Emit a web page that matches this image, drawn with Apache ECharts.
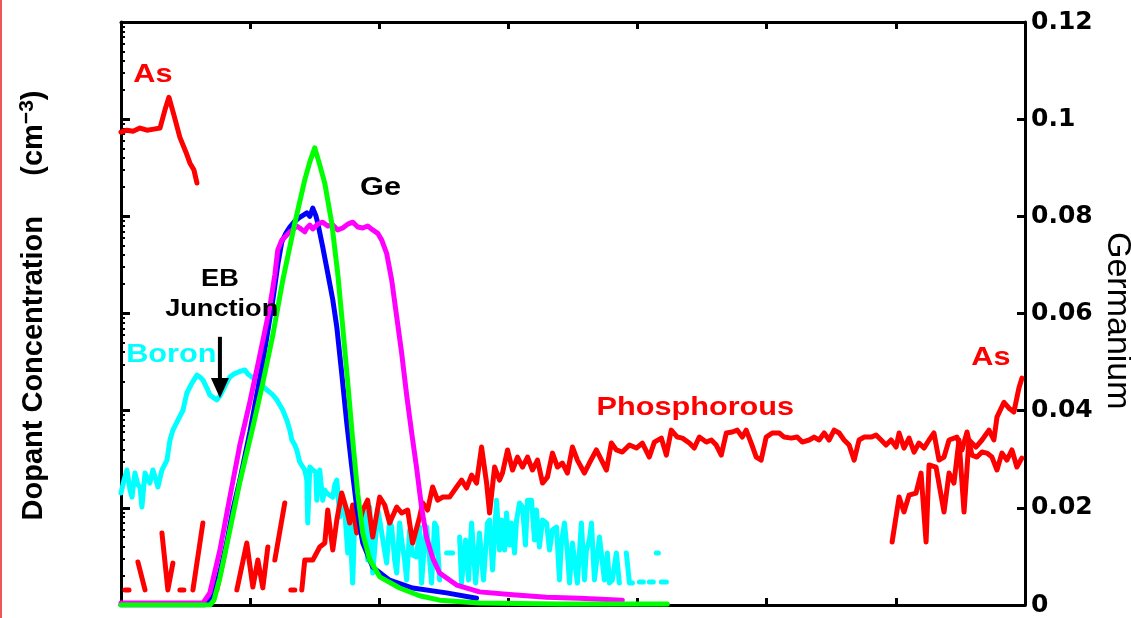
<!DOCTYPE html>
<html><head><meta charset="utf-8">
<script src="https://cdn.jsdelivr.net/npm/echarts@6/dist/echarts.min.js"></script>
<style>html,body{margin:0;padding:0;background:#fff}#c{width:1131px;height:618px}</style>
</head><body><div id="c"></div>
<script>
// ---- Data (depth in nm, Ge fraction on right axis, dopant concentration cm^-3 on left log axis) ----
const depthRange = [0, 700];
const depthStep = 100;
const geTicks = [0, 0.02, 0.04, 0.06, 0.08, 0.1, 0.12];
const dopantRange = [1e16, 1e22];

const geGreen = [[0,0],[69,0],[72,0.001],[76.6,0.0056],[84.3,0.0154],[92,0.0253],[102.1,0.0366],[109.8,0.0457],[117.6,0.0556],[125.3,0.0669],[134.6,0.0786],[142.3,0.0875],[146.2,0.0912],[150,0.0941],[153.9,0.0906],[157.8,0.0868],[163.2,0.0786],[167.8,0.0683],[171.7,0.0572],[175.6,0.0457],[179.4,0.034],[183.3,0.023],[187.2,0.0148],[192.6,0.0093],[200.3,0.0058],[215.8,0.0035],[231.2,0.0019],[246.7,0.001],[277.6,0.0004],[339.5,0.0002],[423,0.0002]];

const geBlue = [[0,0],[65,0],[71.2,0.0016],[76.6,0.0068],[82,0.013],[86.6,0.0196],[92,0.0257],[99.8,0.0356],[109.8,0.05],[117.6,0.0628],[121.4,0.07],[124.5,0.0747],[127.6,0.0765],[130.7,0.0778],[134.6,0.079],[138.4,0.0798],[141.5,0.0803],[143.9,0.0807],[146.2,0.08],[148.5,0.0817],[150.8,0.0802],[152.4,0.0786],[156.2,0.0737],[160.1,0.0683],[164,0.0628],[167.1,0.0572],[170.9,0.0477],[174.8,0.0375],[178.7,0.0284],[182.5,0.0202],[187.2,0.0128],[194.9,0.0078],[208,0.0051],[225.8,0.0035],[252.1,0.0025],[275.3,0.0014]];

const geMagenta = [[0,0.0004],[63.4,0.0004],[68.8,0.0025],[76.6,0.0113],[84.3,0.0222],[92,0.0329],[99.8,0.0418],[107.5,0.0514],[115.2,0.0613],[119.1,0.0679],[121.4,0.0731],[124.5,0.0751],[126.8,0.0757],[130.7,0.0768],[133,0.0772],[136.1,0.078],[138.4,0.0776],[142.3,0.0768],[143.9,0.0776],[146.2,0.0782],[148.5,0.0774],[152.4,0.0784],[156.2,0.0788],[160.1,0.078],[164,0.0782],[167.8,0.0772],[171.7,0.0776],[175.6,0.0784],[179.4,0.0788],[183.3,0.0778],[187.2,0.0776],[191,0.078],[194.9,0.0772],[198.8,0.0765],[201.9,0.0751],[205.7,0.0724],[209.6,0.0669],[213.5,0.0593],[217.3,0.0519],[221.2,0.0432],[225.1,0.0354],[228.9,0.0282],[232.8,0.02],[236.7,0.0138],[241.3,0.0097],[246.7,0.0066],[259.9,0.0041],[277.6,0.0027],[303.2,0.0021],[329.5,0.0016],[355,0.0014],[388.2,0.001]];

const arsenicEmitter = [[0,7.35e20],[4.6,7.7e20],[9.3,7.5e20],[14.7,8.1e20],[20.1,7.7e20],[25.5,7.9e20],[30.2,8.1e20],[34,1.24e21],[37.1,1.68e21],[41,1.1e21],[45.6,6.5e20],[50.3,4.57e20],[53.4,3.52e20],[56.5,2.99e20],[58.8,2.2e20]];

const arsenicDeep = [[597.1,4.45e16],[602.5,1.29e17],[606.3,9.06e16],[610.2,1.35e17],[615.6,1.42e17],[619.5,2.28e17],[623.4,4.45e16],[625.7,2.76e17],[631.1,2.63e17],[637.3,9.06e16],[641.2,2.28e17],[645,1.8e17],[648.9,4.99e17],[652.8,9.06e16],[656.6,4.99e17],[662,4.22e17],[666.7,4.99e17],[672.1,6.31e17],[675.9,4.99e17],[678.3,8.59e17],[683.7,1.22e18],[687.6,1.06e18],[691.4,9.68e17],[695.3,1.71e18],[697.6,2.16e18]];

const phosphorus = [[3.1,1.43e16],[6.2,1.43e16],[9,null],[13.1,2.77e16],[18.6,1.43e16],[25,null],[31.7,5.51e16],[36.3,1.43e16],[40.2,2.7e16],[43,null],[45.6,1.43e16],[48.7,1.43e16],[52,null],[55.7,1.43e16],[63.4,6.98e16],[70,null],[74.2,1.43e16],[80.4,3.43e16],[85,null],[89.7,1.43e16],[97.4,4.34e16],[102.1,1.53e16],[106,2.9e16],[109.8,1.5e16],[113.7,3.95e16],[116,null],[119.1,2.9e16],[126.8,1.12e17],[129,null],[131.5,1.43e16],[134.6,1.43e16],[137,null],
[140,1.43e16],[142.3,2.9e16],[148.5,2.9e16],[153.9,3.95e16],[157.8,4.34e16],[160.1,9.49e16],[164,3.68e16],[167.1,7.49e16],[170.9,1.42e17],[174.8,9.49e16],[177.1,6.98e16],[179.4,1.07e17],[182.5,5.51e16],[187.2,9.49e16],[191,1.2e17],[194.9,5.01e16],[200.3,1.29e17],[204.2,1.07e17],[208,6.98e16],[213.5,1.02e17],[217.3,8.84e16],[222,9.49e16],[225.8,4.34e16],[231.2,8.04e16],[233.6,1.12e17],[237.4,9.49e16],[241.3,1.64e17],[245.2,1.2e17],[249,1.29e17],[254.4,1.29e17],[259.9,1.64e17],[263.7,1.93e17],[267.6,1.6e17],[271.5,2.17e17],[275.3,1.8e17],[279.2,4.22e17],[283.1,1.8e17],[285.4,8.84e16],[289.3,2.63e17],[293.1,1.93e17],[295.4,2.28e17],[299.3,3.94e17],[303.2,2.45e17],[307,3.33e17],[310.9,2.63e17],[314.8,3.33e17],[318.6,2.45e17],[322.5,3.1e17],[326.4,1.8e17],[330.2,2.07e17],[334.1,3.66e17],[338,2.63e17],[341.8,2.89e17],[345.7,2.28e17],[349.6,4.22e17],[353.4,3.1e17],[358.8,2.28e17],[362.7,2.89e17],[368.1,3.94e17],[375.9,2.45e17],[379.7,4.64e17],[383.6,3.94e17],[388.2,3.75e17],[393.7,4.43e17],[399.1,4.12e17],[403.7,4.64e17],[409.1,3.33e17],[413,4.75e17],[418.4,5.22e17],[422.3,3.49e17],[426.1,6.31e17],[430.8,5.35e17],[434.7,5.22e17],[440.1,4.64e17],[443.9,4.12e17],[447.8,5.35e17],[453.2,4.75e17],[457.1,4.99e17],[460.9,4.43e17],[464.8,3.49e17],[468.7,5.89e17],[473.3,6.03e17],[477.2,6.31e17],[481.1,5.35e17],[484.1,6.31e17],[488,4.64e17],[491.9,3.33e17],[495.7,3.1e17],[499.6,5.35e17],[504.3,5.89e17],[509.7,5.89e17],[513.5,5.35e17],[519,5.22e17],[523.6,5.35e17],[527.5,4.75e17],[532.9,4.99e17],[536.7,5.35e17],[540.6,4.99e17],[544.5,5.89e17],[548.3,4.99e17],[552.2,6.31e17],[556.1,5.89e17],[559.9,4.99e17],[563.8,4.43e17],[567.7,3.1e17],[571.5,4.99e17],[575.4,5.35e17],[580.8,5.35e17],[584.7,5.61e17],[588.6,4.99e17],[592.4,4.43e17],[596.3,4.99e17],[600.2,4.22e17],[602.5,5.89e17],[606.3,4.12e17],[610.2,5.22e17],[614.1,3.75e17],[617.9,4.64e17],[621.8,4.12e17],[625.7,4.99e17],[629.5,5.89e17],[633.4,3.1e17],[637.3,3.33e17],[641.2,4.99e17],[647.3,5.35e17],[651.2,3.94e17],[655.1,6.03e17],[658.9,3.49e17],[662.8,3.33e17],[666.7,3.75e17],[670.5,3.66e17],[674.4,3.33e17],[678.3,2.45e17],[682.1,3.66e17],[686,3.1e17],[689.9,3.94e17],[693.7,2.63e17],[697.6,3.25e17]];

const boron = [[0,1.42e17],[2.3,1.93e17],[4.6,2.45e17],[7,1.52e17],[8.5,1.29e17],[10.8,2.28e17],[13.1,1.72e17],[14.7,1.64e17],[16.2,1.02e17],[18.6,2.28e17],[20.9,1.93e17],[22.4,1.8e17],[24.7,2.45e17],[27.1,1.93e17],[28.6,1.64e17],[31.7,2.45e17],[35.6,3.1e17],[37.9,4.99e17],[40.2,6.31e17],[44.1,8e17],[48,1.01e18],[51,1.52e18],[54.9,1.92e18],[58.8,2.32e18],[61.1,2.22e18],[63.4,2.07e18],[66.5,1.71e18],[68.8,1.45e18],[71.9,1.35e18],[74.2,1.29e18],[76.6,1.41e18],[78.9,1.63e18],[82,1.97e18],[84.3,2.22e18],[87.4,2.38e18],[90.5,2.49e18],[92.8,2.55e18],[95.9,2.62e18],[98.2,2.38e18],[101.3,2.22e18],[104.4,2.07e18],[107.5,1.92e18],[110.6,1.75e18],[112.9,1.63e18],[115.2,1.55e18],[117.6,1.45e18],[120.7,1.29e18],[123,1.14e18],[125.3,1.01e18],[128.4,8e17],[130.7,6.31e17],[132.3,4.99e17],[134.6,4.43e17],[136.1,3.94e17],[138.4,2.96e17],[140.8,2.63e17],[142.3,2.45e17],[143.9,1.93e17],[144.6,6.98e16],[146.2,2.63e17],[148.5,2.45e17],[150.8,2.33e17],[151.6,1.2e17],[153.9,2.45e17],[156.2,1.2e17],[157.8,1.52e17],[159.3,1.42e17],[161.6,1.35e17],[164,1.29e17],[165.5,1.72e17],[167.1,1.93e17],[169.4,8.04e16],[170.9,1.2e17],[173.2,9.49e16],[175.6,3.43e16],[177.1,7.49e16],[179.4,1.68e16],[181,7.49e16],[182.5,1.02e17],[184.8,5.91e16],[187.2,4.67e16],[189.5,9.06e16],[191,2.9e16],[192.6,1.02e17],[194.9,2.13e16],[196.4,3.68e16],[198.8,9.49e16],[200.3,7.49e16],[203.4,4.14e16],[205.7,2.7e16],[208,7.49e16],[209.6,6.34e16],[211.9,2.9e16],[213.5,2.13e16],[215.8,6.98e16],[217.3,4.67e16],[219.6,2.9e16],[221.2,1.81e16],[223.5,5.91e16],[225.8,3.27e16],[228.9,3.12e16],[231.2,6.34e16],[232.8,1.68e16],[235.1,4.67e16],[236.7,6.34e16],[239,2.9e16],[240.5,1.68e16],[242.8,6.98e16],[244.4,6.34e16],[246.7,1.81e16],[249,null],[252.1,3.43e16],[256.8,3.43e16],[259,null],[262.2,5.01e16],[263.7,1.68e16],[266.8,4.67e16],[269.1,1.81e16],[271.5,6.98e16],[274.6,1.68e16],[277.6,5.51e16],[280.7,1.81e16],[283.8,6.98e16],[285.4,7.49e16],[287.7,2.29e16],[290.8,1.2e17],[293.1,3.68e16],[294.7,7.49e16],[297,3.68e16],[298.5,8.84e16],[300.8,4.14e16],[302.4,6.98e16],[304.7,3.43e16],[306.3,7.49e16],[308.6,1.12e17],[310.9,1.02e17],[313.2,4.14e16],[314.8,1.2e17],[317.9,1.2e17],[320.2,4.67e16],[321.7,9.49e16],[324,3.95e16],[326.4,7.49e16],[329.5,6.98e16],[331.8,3.68e16],[334.1,5.91e16],[337.2,6.34e16],[339.5,1.81e16],[341,4.34e16],[343.4,6.98e16],[345.7,3.43e16],[347.3,1.68e16],[349.6,4.34e16],[353.4,1.68e16],[356.5,6.98e16],[358.9,1.81e16],[360.4,3.68e16],[362.7,4.67e16],[364.3,6.98e16],[366.6,1.81e16],[370.5,5.01e16],[374.3,1.81e16],[376.6,3.43e16],[378.2,1.68e16],[380.5,1.81e16],[383.6,3.43e16],[385.9,1.68e16],[388,null],[391.3,3.43e16],[393.7,1.68e16],[396,1.68e16],[398,null],[401.4,1.72e16],[404.5,1.72e16],[407,null],[409.1,1.72e16],[412.2,1.72e16],[413,null],[414.5,3.43e16],[416.1,3.43e16],[417,null],[418.4,1.72e16],[422.3,1.72e16]];

// Annotations placed in data coordinates (depth, Ge fraction)
const labels = [
  {text:'As', x:24.7, y:0.1091, color:'#ff0000', size:26},
  {text:'Ge', x:201, y:0.0858, color:'#000000', size:26},
  {text:'EB', x:76.6, y:0.0669, color:'#000000', size:23},
  {text:'Junction', x:78, y:0.0607, color:'#000000', size:23},
  {text:'Boron', x:39, y:0.0515, color:'#00ffff', size:26},
  {text:'Phosphorous', x:444.7, y:0.0405, color:'#ff0000', size:26},
  {text:'As', x:673.6, y:0.0508, color:'#ff0000', size:26}
];
const arrowAt = {x:76.6, yFrom:0.0552, yTo:0.0426};
const rightAxisTitle = {text:'Germanium', y:0.0585, offset:92};

const chart = echarts.init(document.getElementById('c'));
const LW = 5;
function line(name, data, color, yIdx, z){
  return {name, type:'line', data, xAxisIndex:0, yAxisIndex:yIdx, symbol:'none', showSymbol:false,
    connectNulls:false, lineStyle:{color, width:LW, join:'round', cap:'round'}, itemStyle:{color}, z};
}
const axisBlack = {show:true, onZero:false, lineStyle:{color:'#000', width:3}};
const option = {
  animation:false,
  backgroundColor:'#fff',
  grid:{left:121, right:106, top:22, bottom:13, containLabel:false, outerBoundsMode:'none'},
  xAxis:[
    {type:'value', position:'bottom', min:depthRange[0], max:depthRange[1], interval:depthStep,
      axisLine:axisBlack, axisTick:{show:true, inside:true, length:7, lineStyle:{color:'#000', width:3}},
      axisLabel:{show:false}, splitLine:{show:false}},
    {type:'value', position:'top', min:depthRange[0], max:depthRange[1], interval:depthStep,
      axisLine:axisBlack, axisTick:{show:true, inside:true, length:7, lineStyle:{color:'#000', width:3}},
      axisLabel:{show:false}, splitLine:{show:false}}
  ],
  yAxis:[
    {type:'log', logBase:10, min:dopantRange[0], max:dopantRange[1], splitNumber:6, position:'left',
      axisLine:axisBlack, axisTick:{show:true, inside:true, length:9, lineStyle:{color:'#000', width:3}},
      minorTick:{show:true, splitNumber:9, length:4, lineStyle:{color:'#000', width:2}},
      axisLabel:{show:false}, splitLine:{show:false},
      name:'{n|Dopant Concentration     (cm}{s|−3}{n|)}', nameLocation:'middle', nameRotate:90, nameGap:70,
      nameTextStyle:{padding:[0,0,0,16], rich:{
        n:{fontFamily:'Liberation Sans', fontWeight:'bold', fontSize:29, color:'#000', lineHeight:34},
        s:{fontFamily:'Liberation Sans', fontWeight:'bold', fontSize:21, color:'#000', lineHeight:18, verticalAlign:'top'}
      }}},
    {type:'value', min:geTicks[0], max:geTicks[geTicks.length-1], interval:geTicks[1]-geTicks[0], position:'right',
      axisLine:axisBlack, axisTick:{show:true, inside:true, length:8, lineStyle:{color:'#000', width:3}},
      axisLabel:{color:'#000', fontFamily:'DejaVu Sans', fontWeight:'bold', fontSize:25, margin:6},
      splitLine:{show:false}}
  ],
  series:[
    line('Boron', boron, '#00ffff', 0, 2),
    line('Phosphorous', phosphorus, '#ff0000', 0, 3),
    line('As (emitter)', arsenicEmitter, '#ff0000', 0, 3),
    line('As (deep)', arsenicDeep, '#ff0000', 0, 3),
    line('Ge profile B', geBlue, '#0000ff', 1, 4),
    line('Ge profile C', geMagenta, '#ff00ff', 1, 5),
    line('Ge profile A', geGreen, '#00ff00', 1, 6)
  ]
};
chart.setOption(option);

const toPx = (x, y) => chart.convertToPixel({xAxisIndex:0, yAxisIndex:1}, [x, y]);
const graphics = labels.map(l => {
  const p = toPx(l.x, l.y);
  return {type:'text', x:p[0], y:p[1], scaleX:1.18, z:100,
    style:{text:l.text, fill:l.color, font:'bold ' + l.size + 'px "Liberation Sans"', align:'center', verticalAlign:'middle'}};
});
const rt = toPx(depthRange[1], rightAxisTitle.y);
graphics.push({type:'text', x:rt[0] + rightAxisTitle.offset, y:rt[1], rotation:-Math.PI/2, z:100,
  style:{text:rightAxisTitle.text, fill:'#000', font:'34px "Liberation Sans"', align:'center', verticalAlign:'middle'}});
const a0 = toPx(arrowAt.x, arrowAt.yFrom), a1 = toPx(arrowAt.x, arrowAt.yTo);
graphics.push({type:'line', z:100, shape:{x1:a0[0], y1:a0[1], x2:a1[0], y2:a1[1]-14}, style:{stroke:'#000', lineWidth:4}});
graphics.push({type:'polygon', z:100, shape:{points:[[a1[0]-9, a1[1]-20],[a1[0]+9, a1[1]-20],[a1[0], a1[1]]]}, style:{fill:'#000'}});
graphics.push({type:'rect', z:100, shape:{x:0, y:0, width:2, height:618}, style:{fill:'#ee5555'}});
chart.setOption({graphic:graphics});
</script></body></html>
